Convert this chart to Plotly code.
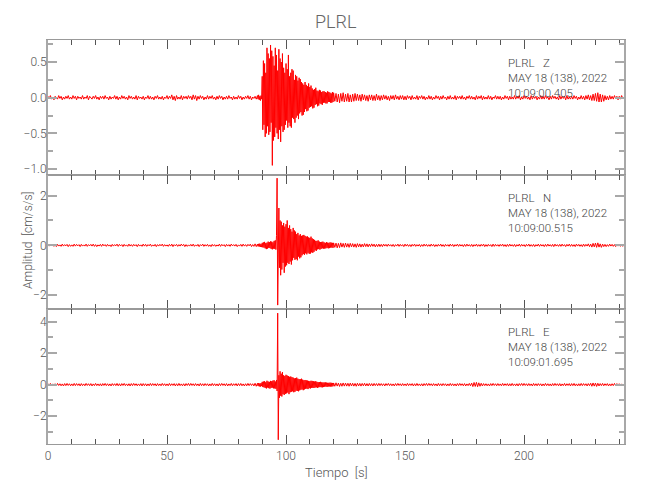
import numpy as np
import plotly.graph_objects as go
from plotly.subplots import make_subplots

# ---- data: peak samples, in units of 0.01 cm/s/s ----
# sampling grid: 0.5 s before the event, 0.25 s through the strong motion, 0.5 s after
t_a = np.arange(0, 88, 0.5)
t_b = np.arange(88, 120, 0.25)
t_c = np.arange(120, 242, 0.5)

z_a = [2,-1,3,-2,1,-3,2,0,-2,3,-1,2,-3,1,-2,2,-1,3,-2,1,
       -2,3,-1,2,-3,2,-1,1,-2,3,-2,1,-1,3,-3,2,0,-2,2,-1,
       3,-2,1,-3,2,-1,2,-2,3,-1,1,-3,2,-2,1,-1,3,-2,2,-3,
       1,-2,3,-1,2,-2,1,-3,3,-1,2,-2,1,-2,3,-3,2,-1,1,-2,
       2,-3,1,-1,3,-2,2,-2,1,-3,2,-1,3,-2,1,-2,2,-3,1,-1,
       3,-2,2,-1,4,-3,2,-4,3,-2,1,-2,3,-3,2,-1,2,-2,3,-1,
       2,-3,4,-2,3,-4,2,-2,3,-1,2,-3,1,-2,3,-2,2,-1,3,-2,
       1,-3,2,-2,3,-1,2,-3,1,-2,2,-2,3,-1,1,-3,2,-2,1,-2,
       3,-1,2,-3,1,-2,2,-1,3,-2,2,-3,1,-1,2,-2]
z_b = [3,-2,4,-3,2,-4,3,-2,
       30,-45,52,-38, 48,-55,35,-50, 70,-40,62,-52, 55,-48,74,-35,
       66,-95,58,-60, 45,-55,70,-42, 60,-50,38,-58, 68,-45,55,-62,
       50,-40,62,-48, 42,-45,35,-38, 48,-32,40,-42, 60,-35,30,-40,
       35,-42,40,-28, 38,-30,25,-35, 32,-28,30,-25, 24,-30,28,-22,
       26,-20,22,-25, 20,-24,18,-20, 22,-16,18,-19, 16,-18,20,-14,
       15,-13,17,-12, 13,-15,11,-14, 12,-10,14,-9, 10,-12,9,-11,
       11,-8,10,-9, 8,-10,9,-7, 9,-7,8,-8, 7,-8,9,-6,
       8,-6,7,-7, 6,-7,8,-6]
z_c = [7,-5,6,-6,5,-7,6,-5,7,-6,5,-5,6,-6,4,-6,5,-5,6,-4,
       5,-4,4,-5,5,-3,4,-4,3,-5,4,-3,4,-4,3,-4,5,-3,3,-4,
       3,-3,4,-2,3,-3,2,-4,3,-2,3,-3,4,-2,2,-3,3,-2,3,-3,
       2,-3,3,-1,2,-3,3,-2,1,-2,3,-3,2,-1,3,-2,2,-3,1,-2,
       3,-2,2,-3,1,-2,3,-1,2,-3,2,-2,3,-1,1,-3,2,-2,3,-2,
       1,-2,3,-3,2,-1,2,-2,3,-2,1,-3,2,-1,3,-2,2,-2,1,-3,
       3,-2,2,-1,3,-3,2,-2,1,-2,3,-2,2,-3,1,-1,3,-2,2,-2,
       2,-3,1,-2,3,-1,2,-3,2,-2,1,-2,3,-2,2,-1,3,-3,1,-2,
       3,-1,2,-2,1,-3,3,-2,2,-1,2,-3,1,-2,3,-2,2,-2,3,-1,
       1,-3,2,-2,3,-1,2,-2,1,-3,3,-2,2,-1,2,-3,3,-2,1,-2,
       2,-2,3,-1,2,-3,1,-2,3,-2,2,-3,3,-2,4,-3,3,-4,5,-4,
       6,-5,7,-6,5,-6,4,-5,3,-3,2,-3,3,-2,2,-2,3,-1,2,-3,
       2,-2,3,-1]

n_a = [4,-3,5,-2,3,-4,2,-5,4,-3,2,-4,5,-3,3,-2,4,-5,3,-4,
       2,-4,5,-3,4,-2,3,-5,4,-3,2,-3,5,-4,3,-2,4,-3,5,-4,
       3,-5,2,-3,4,-4,5,-2,3,-4,4,-3,2,-5,4,-3,3,-2,5,-4,
       4,-2,3,-5,4,-3,2,-4,5,-3,3,-4,4,-2,3,-5,4,-3,2,-4,
       5,-3,4,-4,3,-2,5,-4,2,-3,4,-5,3,-3,4,-2,5,-4,3,-3,
       2,-4,4,-3,5,-5,3,-2,4,-4,3,-3,5,-2,4,-5,3,-4,2,-3,
       4,-3,5,-4,2,-3,4,-5,3,-2,5,-4,3,-3,4,-4,2,-5,4,-3,
       3,-4,2,-3,5,-4,4,-2,3,-5,4,-3,3,-4,5,-2,3,-3,4,-5,
       2,-3,4,-4,5,-3,3,-4,4,-2,5,-5,3,-4,6,-5]
n_b = [5,-4,6,-5,7,-6,5,-7,
       10,-8,12,-9, 14,-12,9,-15, 11,-13,15,-10, 13,-11,16,-14,
       15,-16,12,-13, 18,-14,20,-17, 40,270,-240,-60, 150,-90,100,-120,
       95,-97,80,-70, 90,-110,75,-85, 85,-80,100,-70, 70,-75,80,-65,
       65,-77,55,-60, 70,-50,60,-58, 55,-55,45,-60, 50,-45,40,-52,
       45,-48,38,-40, 40,-35,42,-38, 38,-32,35,-36, 36,-30,32,-34,
       30,-33,35,-28, 28,-30,25,-26, 22,-20,18,-22, 18,-16,20,-15,
       15,-17,13,-14, 14,-12,15,-13, 12,-13,10,-12, 13,-10,11,-12,
       10,-11,12,-9, 11,-9,10,-10]
n_c = [10,-8,9,-10,8,-9,10,-7,8,-8,9,-7,7,-8,8,-6,7,-7,6,-8,
       7,-6,6,-7,5,-6,7,-5,6,-6,5,-5,6,-4,5,-6,4,-5,5,-5,
       4,-5,5,-3,4,-4,5,-3,3,-4,4,-5,3,-3,5,-4,4,-3,3,-5,
       5,-3,4,-4,3,-5,4,-3,5,-4,3,-3,4,-5,3,-4,5,-3,4,-4,
       3,-4,5,-3,4,-5,3,-4,4,-3,5,-4,3,-5,4,-3,3,-4,5,-3,
       4,-5,3,-3,5,-4,4,-3,3,-5,4,-4,5,-3,3,-4,4,-5,3,-3,
       5,-4,3,-4,4,-3,5,-5,3,-4,4,-3,3,-5,5,-4,4,-3,3,-4,
       4,-3,5,-4,3,-5,4,-4,5,-3,3,-4,4,-5,3,-3,5,-4,4,-3,
       3,-5,4,-3,5,-4,3,-4,4,-5,3,-3,5,-4,4,-3,3,-5,4,-4,
       5,-3,3,-4,4,-5,5,-3,3,-4,4,-4,5,-3,3,-5,4,-3,5,-4,
       4,-4,3,-5,5,-3,4,-4,3,-5,5,-4,4,-3,6,-5,5,-7,8,-6,
       9,-8,10,-7,6,-8,5,-5,4,-5,3,-4,5,-3,4,-4,3,-5,4,-3,
       4,-4,3,-5]

e_a = [7,-5,8,-6,5,-8,6,-7,8,-5,6,-7,5,-8,7,-6,8,-5,6,-7,
       5,-7,8,-6,7,-5,6,-8,7,-6,5,-7,8,-5,6,-6,7,-8,5,-6,
       8,-6,5,-7,6,-8,7,-5,8,-6,6,-7,5,-8,7,-5,6,-6,8,-7,
       6,-8,7,-5,8,-6,5,-7,6,-8,7,-6,8,-5,6,-7,5,-6,7,-8,
       7,-6,6,-8,5,-7,8,-6,7,-5,6,-8,7,-6,5,-7,8,-5,6,-7,
       5,-7,8,-6,6,-5,7,-8,6,-7,8,-6,5,-7,6,-8,7,-5,8,-6,
       8,-5,6,-7,7,-6,5,-8,8,-6,6,-7,7,-5,6,-8,5,-7,8,-6,
       6,-7,5,-8,7,-6,8,-5,6,-7,7,-8,5,-6,8,-7,6,-5,7,-8,
       7,-6,8,-7,5,-8,6,-7,8,-6,7,-5,6,-8,9,-10]
e_b = [9,-8,10,-11,8,-12,10,-9,
       18,-15,20,-17, 22,-20,16,-24, 25,-18,20,-22, 18,-25,24,-20,
       22,-19,26,-23, 28,-24,20,-26, 30,-40,455,-350, 60,-83,85,-70,
       70,-75,80,-60, 60,-65,55,-58, 63,-55,58,-50, 55,-60,50,-48,
       52,-45,48,-42, 45,-48,40,-45, 42,-38,45,-40, 38,-42,35,-36,
       35,-32,38,-30, 32,-35,28,-30, 30,-26,28,-25, 26,-28,24,-22,
       22,-24,25,-20, 24,-20,22,-21, 20,-18,22,-17, 18,-20,16,-17,
       17,-15,18,-16, 15,-17,14,-15, 14,-13,15,-12, 13,-14,12,-12,
       12,-11,13,-12, 12,-12,11,-10]
e_c = [11,-10,12,-9,10,-11,9,-10,11,-9,10,-9,9,-10,10,-8,9,-9,8,-10,
       9,-8,8,-9,8,-7,9,-8,7,-8,8,-7,7,-8,8,-6,7,-7,8,-6,
       7,-6,6,-8,7,-5,8,-6,6,-7,5,-8,7,-6,8,-5,6,-7,7,-6,
       5,-7,8,-6,6,-5,7,-8,6,-7,8,-6,5,-7,6,-8,7,-5,8,-6,
       8,-5,6,-7,7,-6,5,-8,8,-6,6,-7,7,-5,6,-8,5,-7,8,-6,
       6,-7,5,-8,7,-6,8,-5,6,-7,7,-8,5,-6,8,-7,10,-12,14,-11,
       15,-13,12,-10,9,-8,7,-6,6,-7,5,-8,7,-6,8,-5,6,-7,7,-6,
       5,-7,8,-6,6,-5,7,-8,6,-7,8,-6,5,-7,6,-8,7,-5,8,-6,
       8,-5,6,-7,7,-6,5,-8,8,-6,6,-7,7,-5,6,-8,5,-7,8,-6,
       6,-7,5,-8,7,-6,8,-5,6,-7,7,-8,5,-6,8,-7,6,-5,7,-8,
       7,-6,8,-7,5,-8,6,-7,8,-6,7,-5,6,-8,7,-6,9,-10,11,-9,
       10,-11,9,-8,7,-6,8,-7,6,-5,7,-8,5,-7,6,-6,8,-5,7,-6,
       6,-7,5,-8]

components = ["Z", "N", "E"]
start_times = ["10:09:00.405", "10:09:00.515", "10:09:01.695"]
station = "PLRL"
date_label = "MAY 18 (138), 2022"
x_ticks = [0, 50, 100, 150, 200]
y_ranges = [[-1.08, 0.81], [-2.57, 2.84], [-3.77, 4.79]]
y_dticks = [0.5, 2, 2]
y_minor = [0.25, 1, 1]

t_all = np.concatenate([t_a, t_b, t_c])
series = [np.array(z_a + z_b + z_c) * 0.01,
          np.array(n_a + n_b + n_c) * 0.01,
          np.array(e_a + e_b + e_c) * 0.01]

FONT = "Roboto, Liberation Sans Narrow, sans-serif"
AX = "#a8a8a8"
TXT = "#555555"

fig = make_subplots(rows=3, cols=1, shared_xaxes=True, vertical_spacing=0)
for i, y in enumerate(series):
    fig.add_trace(go.Scatter(x=t_all, y=y, mode="lines",
                             line=dict(color="#ff0000", width=1),
                             showlegend=False, hoverinfo="skip"),
                  row=i + 1, col=1)

for i in range(3):
    fig.update_yaxes(range=y_ranges[i], dtick=y_dticks[i], tick0=0,
                     tickformat=".1f" if i == 0 else "d",
                     ticks="inside", ticklen=9, tickwidth=2, tickcolor=AX,
                     minor=dict(dtick=y_minor[i], tick0=0, ticks="inside",
                                ticklen=5, tickwidth=2, tickcolor=AX),
                     showline=True, linecolor=AX, linewidth=2, mirror="ticks",
                     showgrid=False, zeroline=False, ticklabelstandoff=-3,
                     tickfont=dict(family=FONT, size=12, color=TXT, weight=300),
                     row=i + 1, col=1)
    fig.update_xaxes(range=[0, 242], tickvals=x_ticks,
                     ticks="inside", ticklen=9, tickwidth=1, tickcolor="#555",
                     minor=dict(dtick=10, tick0=0, ticks="inside",
                                ticklen=5, tickwidth=1, tickcolor="#555"),
                     showline=True, linecolor="#999999", linewidth=1.2, mirror="ticks",
                     showgrid=False, zeroline=False,
                     tickfont=dict(family=FONT, size=12, color=TXT, weight=300),
                     row=i + 1, col=1)

# positions given in screen pixels of the 650x500 picture
def py(pix):
    return (444 - pix) / 404.0
def px(pix):
    return (pix - 48) / 576.0

ann = []
for i in range(3):
    top = 54 + 134.7 * i
    txt = (station + "\u00a0\u00a0\u00a0" + components[i] + "<br>" +
           date_label + "<br>" + start_times[i])
    ann.append(dict(text=txt, x=px(506), y=py(top), align="left",
                    xref="paper", yref="paper", xanchor="left", yanchor="top",
                    showarrow=False,
                    font=dict(family=FONT, size=11.5, color="#444", weight=300)))
ann.append(dict(text=station, x=0.5, y=py(21.5), xref="paper", yref="paper",
                xanchor="center", yanchor="middle", showarrow=False,
                font=dict(family=FONT, size=18, color="#666", weight=300)))
ann.append(dict(text="Tiempo\u00a0\u00a0[s]", x=0.5, y=py(472), xref="paper", yref="paper",
                xanchor="center", yanchor="middle", showarrow=False,
                font=dict(family=FONT, size=13, color=TXT, weight=300)))
ann.append(dict(text="Amplitud\u00a0\u00a0[cm/s/s]", x=px(28), y=py(241),
                xref="paper", yref="paper", xanchor="center", yanchor="middle",
                textangle=-90, showarrow=False,
                font=dict(family=FONT, size=12, color=TXT, weight=300)))

fig.update_layout(width=650, height=500,
                  margin=dict(l=40, r=34, t=32, b=64),
                  paper_bgcolor="white", plot_bgcolor="white",
                  annotations=ann)

fig.write_html("out.html")
